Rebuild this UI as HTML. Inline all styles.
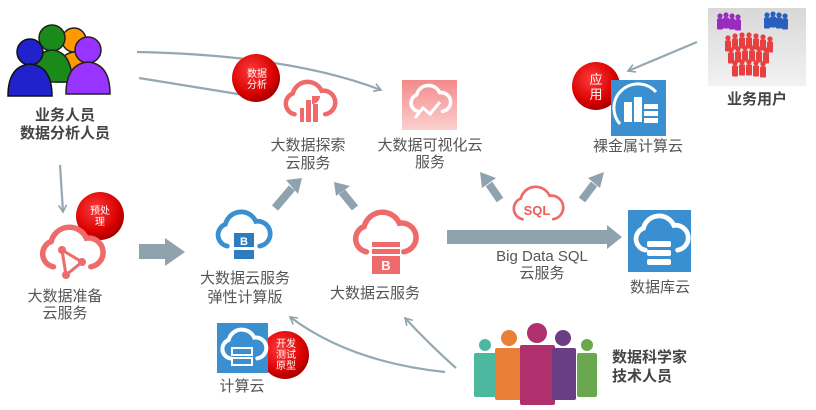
<!DOCTYPE html>
<html><head><meta charset="utf-8"><style>
html,body{margin:0;padding:0;background:#fff;width:816px;height:410px;overflow:hidden}
svg text{font-family:"Liberation Sans","Noto Sans CJK SC",sans-serif}
</style></head><body>
<svg width="816" height="410" viewBox="0 0 816 410" xmlns="http://www.w3.org/2000/svg">
<defs>
<path id="cl" d="M14,38 A12,12 0 0 1 12,15 A17,17 0 0 1 44,12 A12,12 0 0 1 48,38" fill="none" stroke-linecap="round"/>
<radialGradient id="rb" cx="40%" cy="35%" r="70%"><stop offset="0" stop-color="#ff3a3a"/><stop offset="0.7" stop-color="#d80000"/><stop offset="1" stop-color="#900"/></radialGradient>
<linearGradient id="vg" x1="0" y1="0" x2="0" y2="1"><stop offset="0" stop-color="#f48a8a"/><stop offset="1" stop-color="#fbd0d0"/></linearGradient>
<linearGradient id="pg" x1="0" y1="0" x2="0" y2="1"><stop offset="0" stop-color="#d8d8d8"/><stop offset="1" stop-color="#f2f2f2"/></linearGradient>
<marker id="ah" markerWidth="10" markerHeight="10" refX="8" refY="5" orient="auto" markerUnits="userSpaceOnUse"><path d="M1,1 L8,5 L1,9" fill="none" stroke="#8fa3ae" stroke-width="1.6"/></marker>
<g id="pr"><circle cx="0" cy="0" r="2.6"/><rect x="-3" y="2.5" width="6" height="11" rx="1"/></g>
</defs>

<g fill="none" stroke="#95a8b2" stroke-width="2.2">
<path d="M137,52 Q290,55 381,90" marker-end="url(#ah)"/>
<path d="M139,78 Q200,88 244,95"/>
<path d="M697,42 L628,71" marker-end="url(#ah)"/>
<path d="M60,165 L63,212" marker-end="url(#ah)"/>
<path d="M445,372 Q350,362 290,317" marker-end="url(#ah)"/>
<path d="M456,368 Q430,345 405,318" marker-end="url(#ah)"/>
</g>

<g>
<circle cx="74" cy="40" r="12" fill="#ff9900" stroke="#222" stroke-width="1.5"/>
<path d="M56,82 Q56,54 74,52 Q94,54 94,82 Z" fill="#ff9900" stroke="#222" stroke-width="1.5"/>
<circle cx="52" cy="38" r="13" fill="#1a8a1a" stroke="#222" stroke-width="1.5"/>
<path d="M32,82 Q32,52 52,50 Q72,52 72,82 Z" fill="#1a8a1a" stroke="#222" stroke-width="1.5"/>
<circle cx="30" cy="52" r="13" fill="#2222cc" stroke="#111" stroke-width="1.5"/>
<path d="M8,96 Q8,66 30,64 Q52,66 52,96 Z" fill="#2222cc" stroke="#111" stroke-width="1.5"/>
<circle cx="88" cy="50" r="13" fill="#9933ff" stroke="#222" stroke-width="1.5"/>
<path d="M66,94 Q66,64 88,62 Q110,64 110,94 Z" fill="#9933ff" stroke="#222" stroke-width="1.5"/>
</g>
<g font-size="15" font-weight="bold" fill="#444" text-anchor="middle">
<text x="65" y="120">业务人员</text><text x="65" y="138">数据分析人员</text>
</g>

<g transform="translate(282,80) scale(0.9)"><use href="#cl" stroke="#ef6a6a" stroke-width="5"/></g>
<rect x="300" y="108" width="4" height="14" fill="#ef6a6a"/><rect x="306" y="100" width="5" height="22" fill="#ef6a6a"/><rect x="313" y="104" width="5" height="18" fill="#ef6a6a"/>
<path d="M312,96 l8,0 a8,8 0 0 1 -8,8z" fill="#ef6a6a"/>

<rect x="402" y="80" width="55" height="50" fill="url(#vg)"/>
<g transform="translate(408,84) scale(0.72)"><use href="#cl" stroke="#fff" stroke-width="5"/></g>
<path d="M415,118 l8,-10 l7,6 l10,-12" fill="none" stroke="#fff" stroke-width="3"/>

<g>
<circle cx="256" cy="78" r="24" fill="url(#rb)"/>
<circle cx="596" cy="86" r="24" fill="url(#rb)"/>
<circle cx="100" cy="216" r="24" fill="url(#rb)"/>
<circle cx="285" cy="355" r="24" fill="url(#rb)"/>
</g>
<g fill="#fff" text-anchor="middle" font-size="10">
<text x="257" y="77">数据</text><text x="257" y="88">分析</text>
<text x="596" y="84" font-size="13">应</text><text x="596" y="99" font-size="13">用</text>
<text x="100" y="214">预处</text><text x="100" y="225">理</text>
<text x="286" y="347">开发</text><text x="286" y="358">测试</text><text x="286" y="369">原型</text>
</g>

<rect x="611" y="80" width="55" height="56" fill="#3a8fd0"/>
<path d="M620,124 A20,20 0 1 1 656,92" fill="none" stroke="#fff" stroke-width="3"/>
<rect x="624" y="102" width="8" height="20" fill="#fff"/><rect x="634" y="97" width="8" height="25" fill="#fff"/>
<rect x="644" y="104" width="14" height="5" fill="#fff"/><rect x="644" y="111" width="14" height="5" fill="#fff"/><rect x="644" y="118" width="14" height="5" fill="#fff"/>

<rect x="708" y="8" width="98" height="78" fill="url(#pg)"/>
<g fill="#9a2bc0"><use href="#pr" x="720" y="16"/><use href="#pr" x="726" y="15"/><use href="#pr" x="732" y="16"/><use href="#pr" x="738" y="17"/></g>
<g fill="#2a5fc0"><use href="#pr" x="767" y="15"/><use href="#pr" x="773" y="14"/><use href="#pr" x="779" y="15"/><use href="#pr" x="785" y="16"/></g>
<g fill="#e84040">
<use href="#pr" x="728" y="38"/><use href="#pr" x="735" y="36"/><use href="#pr" x="742" y="35"/><use href="#pr" x="749" y="35"/><use href="#pr" x="756" y="36"/><use href="#pr" x="763" y="37"/><use href="#pr" x="770" y="39"/>
<use href="#pr" x="731" y="50"/><use href="#pr" x="738" y="49"/><use href="#pr" x="745" y="48"/><use href="#pr" x="752" y="48"/><use href="#pr" x="759" y="49"/><use href="#pr" x="766" y="50"/>
<use href="#pr" x="735" y="63"/><use href="#pr" x="742" y="62"/><use href="#pr" x="749" y="62"/><use href="#pr" x="756" y="63"/><use href="#pr" x="763" y="64"/>
</g>
<text x="757" y="104" font-size="15" font-weight="bold" fill="#444" text-anchor="middle">业务用户</text>

<g font-size="15" fill="#555" text-anchor="middle">
<text x="308" y="150">大数据探索</text><text x="308" y="168">云服务</text>
<text x="430" y="150">大数据可视化云</text><text x="430" y="167">服务</text>
<text x="638" y="151">裸金属计算云</text>
<text x="65" y="301">大数据准备</text><text x="65" y="318">云服务</text>
<text x="245" y="283">大数据云服务</text><text x="245" y="302">弹性计算版</text>
<text x="375" y="298">大数据云服务</text>
<text x="542" y="261">Big Data SQL</text><text x="542" y="278">云服务</text>
<text x="660" y="292">数据库云</text>
<text x="242" y="391">计算云</text>
</g>
<g font-size="15" font-weight="bold" fill="#444">
<text x="612" y="362">数据科学家</text><text x="612" y="381">技术人员</text>
</g>

<g transform="translate(38,225) scale(1.1)"><use href="#cl" stroke="#ef6a6a" stroke-width="5"/></g>
<path d="M62,250 L82,262 L66,275 Z" fill="none" stroke="#ef6a6a" stroke-width="3"/>
<circle cx="62" cy="250" r="4" fill="#ef6a6a"/><circle cx="82" cy="262" r="4" fill="#ef6a6a"/><circle cx="66" cy="275" r="4" fill="#ef6a6a"/>

<g fill="#8fa3ae">
<path d="M139,244 L165,244 L165,238 L185,252 L165,266 L165,259 L139,259 Z"/>
<path d="M447,230 L607,230 L607,225 L622,237 L607,249 L607,244 L447,244 Z"/>
</g>
<g stroke="#8fa3ae" stroke-width="8" fill="none">
<line x1="275" y1="208" x2="292" y2="188"/>
<line x1="355" y1="208" x2="342" y2="192"/>
<line x1="500" y1="200" x2="489" y2="184"/>
<line x1="582" y1="200" x2="594" y2="184"/>
</g>
<g fill="#8fa3ae">
<path d="M286,180 L302,178 L298,194 Z"/>
<path d="M334,182 L350,186 L336,196 Z"/>
<path d="M480,172 L496,178 L482,188 Z"/>
<path d="M604,172 L600,188 L588,178 Z"/>
</g>

<g transform="translate(214,210) scale(0.95)"><use href="#cl" stroke="#3a8fd0" stroke-width="5"/></g>
<rect x="234" y="233" width="20" height="14" fill="#2d7cc0"/><text x="244" y="245" font-size="11" fill="#fff" text-anchor="middle" font-weight="bold">B</text>
<rect x="234" y="250" width="20" height="9" fill="#2d7cc0"/>

<g transform="translate(351,210) scale(1.1)"><use href="#cl" stroke="#ef6a6a" stroke-width="5"/></g>
<rect x="372" y="242" width="28" height="5" fill="#ef6a6a"/><rect x="372" y="249" width="28" height="5" fill="#ef6a6a"/>
<rect x="372" y="256" width="28" height="18" fill="#ef6a6a"/><text x="386" y="270" font-size="13" fill="#fff" text-anchor="middle" font-weight="bold">B</text>

<g transform="translate(510,185) scale(0.9)"><use href="#cl" stroke="#ef6a6a" stroke-width="3"/></g>
<text x="537" y="215" font-size="13" font-weight="bold" fill="#ef5a5a" text-anchor="middle">SQL</text>

<rect x="628" y="210" width="63" height="62" fill="#3a8fd0"/>
<g transform="translate(632,214) scale(0.95)"><use href="#cl" stroke="#fff" stroke-width="5"/></g>
<rect x="647" y="241" width="24" height="6" rx="2" fill="#fff"/><rect x="647" y="250" width="24" height="6" rx="2" fill="#fff"/><rect x="647" y="259" width="24" height="6" rx="2" fill="#fff"/>

<rect x="217" y="323" width="51" height="50" fill="#3a8fd0"/>
<g transform="translate(219,328) scale(0.8)"><use href="#cl" stroke="#fff" stroke-width="5"/></g>
<rect x="232" y="348" width="20" height="7" fill="none" stroke="#fff" stroke-width="2"/><rect x="232" y="358" width="20" height="7" fill="none" stroke="#fff" stroke-width="2"/>

<g>
<circle cx="485" cy="345" r="6" fill="#4db8a0"/><rect x="474" y="353" width="24" height="44" rx="2" fill="#4db8a0"/>
<circle cx="509" cy="338" r="8" fill="#e8803a"/><rect x="495" y="348" width="26" height="52" rx="2" fill="#e8803a"/>
<circle cx="537" cy="333" r="10" fill="#b0306e"/><rect x="520" y="345" width="35" height="60" rx="2" fill="#b0306e"/>
<circle cx="563" cy="338" r="8" fill="#6b3d85"/><rect x="552" y="348" width="24" height="52" rx="2" fill="#6b3d85"/>
<circle cx="587" cy="345" r="6" fill="#6aa84f"/><rect x="577" y="353" width="20" height="44" rx="2" fill="#6aa84f"/>
</g>
</svg>
</body></html>
